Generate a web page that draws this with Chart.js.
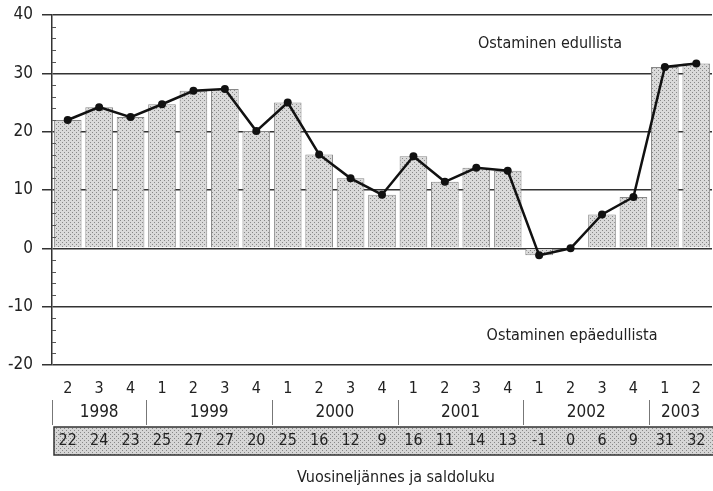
<!DOCTYPE html>
<html><head><meta charset="utf-8">
<script src="https://cdn.jsdelivr.net/npm/chart.js@4"></script>
<style>html,body{margin:0;padding:0;background:#fff;overflow:hidden;width:713px;height:491px}canvas{display:block}</style>
</head><body><canvas id="c" width="716" height="491"></canvas>
<script>
// ---- data ----
const quarters = ['2','3','4','1','2','3','4','1','2','3','4','1','2','3','4','1','2','3','4','1','2'];
const years = ['1998','1998','1998','1999','1999','1999','1999','2000','2000','2000','2000','2001','2001','2001','2001','2002','2002','2002','2002','2003','2003'];
const balance = [22.0,24.2,22.5,24.7,27.0,27.3,20.1,25.0,16.1,12.0,9.2,15.8,11.4,13.8,13.3,-1.2,0.0,5.8,8.8,31.1,31.7];
const tableValues = [22,24,23,25,27,27,20,25,16,12,9,16,11,14,13,-1,0,6,9,31,32];
const yMin = -20, yMax = 40;
const notes = [{text:'Ostaminen edullista', value:35}, {text:'Ostaminen epäedullista', value:-15}];
const xTitle = 'Vuosineljännes ja saldoluku';

const FONT = "'Liberation Sans Narrow','DejaVu Sans Condensed','Arial Narrow',sans-serif";
const canvas = document.getElementById('c');
const mainCtx = canvas.getContext('2d');
function stipple(bg, dot){
  const c = document.createElement('canvas'); c.width = 4; c.height = 4;
  const g = c.getContext('2d'); g.fillStyle = bg; g.fillRect(0,0,4,4);
  g.fillStyle = dot; g.fillRect(0,0,1,1); g.fillRect(2,2,1,1);
  return mainCtx.createPattern(c,'repeat');
}
const barFill = stipple('#dadada','#888888');
const tableFill = stipple('#d6d6d6','#888888');

const extras = {
  id:'extras',
  afterDatasetsDraw(chart){
    const ctx = chart.ctx, y = chart.scales.y, x = chart.scales.x;
    ctx.save();
    // minor ticks inside the axis
    ctx.strokeStyle = '#555'; ctx.lineWidth = 1;
    for (let v = yMin; v <= yMax; v += 2){
      if (v % 10 === 0) continue;
      const py = Math.round(y.getPixelForValue(v)) + 0.5;
      ctx.beginPath(); ctx.moveTo(x.left, py); ctx.lineTo(x.left + 4, py); ctx.stroke();
    }
    // notes
    ctx.fillStyle = '#222'; ctx.font = '16px ' + FONT; ctx.textAlign = 'center'; ctx.textBaseline = 'middle';
    ctx.fillText(notes[0].text, 550, y.getPixelForValue(notes[0].value));
    ctx.fillText(notes[1].text, 572, y.getPixelForValue(notes[1].value));
    ctx.restore();
  },
  afterDraw(chart){
    const ctx = chart.ctx, x = chart.scales.x;
    const n = quarters.length;
    const cw = (x.right - x.left) / n;
    ctx.save();
    // year row
    ctx.strokeStyle = '#777'; ctx.lineWidth = 1;
    ctx.fillStyle = '#222'; ctx.font = '17px ' + FONT; ctx.textAlign = 'center'; ctx.textBaseline = 'middle';
    let start = 0;
    for (let i = 1; i <= n; i++){
      if (i === n || years[i] !== years[start]){
        const lx = Math.round(x.getPixelForValue(start) - cw/2) + 0.5;
        ctx.beginPath(); ctx.moveTo(lx, 400); ctx.lineTo(lx, 425); ctx.stroke();
        const cx = (x.getPixelForValue(start) + x.getPixelForValue(i-1)) / 2;
        ctx.fillText(years[start], cx, 413);
        start = i;
      }
    }
    // value row
    ctx.fillStyle = tableFill;
    ctx.fillRect(x.left + 2, 427, x.right, 28);
    ctx.strokeStyle = '#333'; ctx.lineWidth = 1.5;
    ctx.strokeRect(x.left + 2, 427, x.right, 28);
    ctx.fillStyle = '#222'; ctx.font = '16px ' + FONT;
    for (let i = 0; i < n; i++) ctx.fillText(String(tableValues[i]), x.getPixelForValue(i), 441);
    // axis title
    ctx.fillText(xTitle, 396, 478);
    ctx.restore();
  }
};

new Chart(canvas, {
  data: {
    labels: quarters,
    datasets: [
      {type:'line', data: balance, borderColor:'#111', borderWidth:2.5, tension:0,
       pointRadius:4, pointBackgroundColor:'#111', pointBorderWidth:0, order:0},
      {type:'bar', data: balance, backgroundColor: barFill, borderColor:'#888', borderWidth:1,
       barPercentage:0.88, categoryPercentage:1.0, order:1}
    ]
  },
  options: {
    responsive:false, animation:false,
    layout:{padding:{top:15, left:0, right:0, bottom:0}},
    plugins:{legend:{display:false}, tooltip:{enabled:false}},
    scales:{
      x:{
        grid:{display:false, drawTicks:false}, border:{display:false},
        ticks:{font:{family:FONT, size:16}, color:'#222', padding:14, maxRotation:0, autoSkip:false},
        afterFit(s){ s.height = 126; s.paddingLeft = 0; s.paddingRight = 0; }
      },
      y:{
        min:yMin, max:yMax,
        ticks:{stepSize:2, autoSkip:false, font:{family:FONT, size:17}, color:'#222', padding:9,
          callback:(v)=> (Math.round(v) % 10 === 0 ? String(Math.round(v)) : '')},
        grid:{
          color:(c)=> (c.tick && Math.round(c.tick.value) % 10 === 0 ? '#333' : 'rgba(0,0,0,0)'),
          tickColor:(c)=> (c.tick && Math.round(c.tick.value) % 10 === 0 ? '#333' : 'rgba(0,0,0,0)'),
          lineWidth:1.5, tickLength:10
        },
        border:{display:true, color:'#333', width:1.5},
        afterFit(s){ s.width = 52; s.paddingTop = 0; s.paddingBottom = 0; }
      }
    }
  },
  plugins:[extras]
});
</script>
</body></html>
